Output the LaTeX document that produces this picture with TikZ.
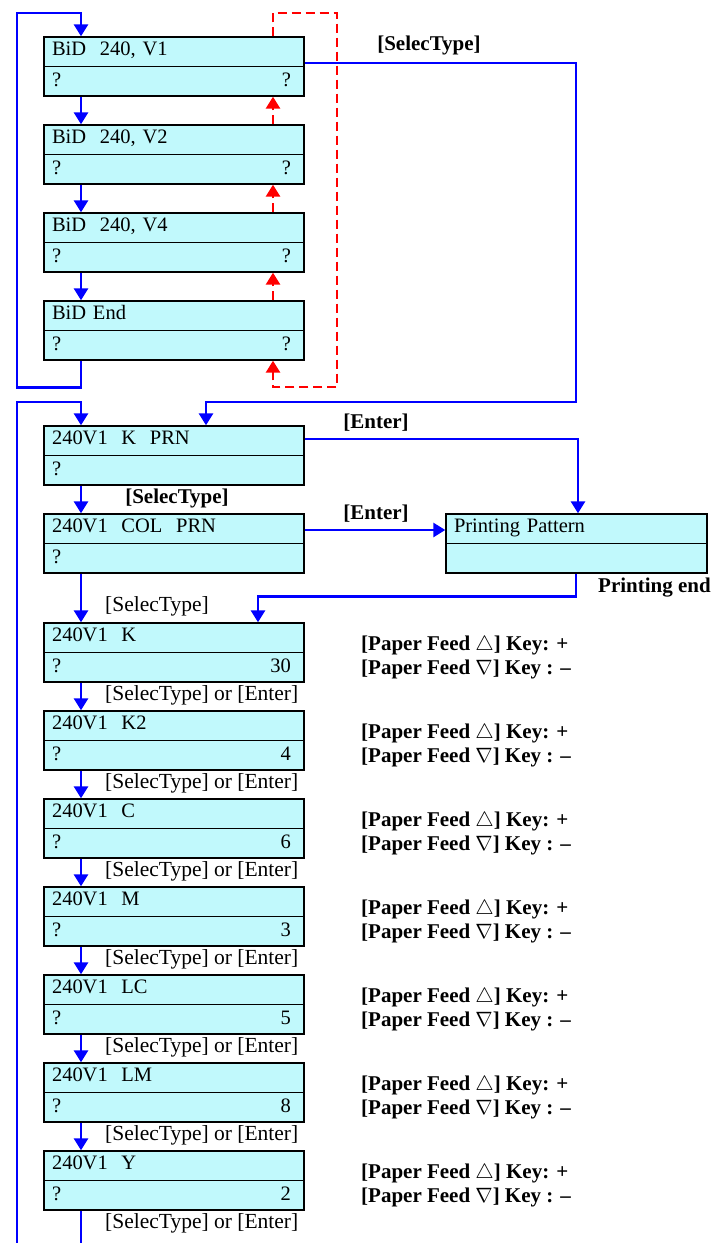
\documentclass[tikz,border=0pt]{standalone}
\usepackage{fontspec}
\setmainfont{Liberation Serif}
\usepackage{tikz}
\usetikzlibrary{arrows.meta, positioning}
\definecolor{lcdcyan}{RGB}{193,249,252}
\newcommand{\lcdrow}[2]{#1\hfill #2\hspace*{5pt}\rule[-5pt]{0pt}{5pt}}

\begin{document}
\begin{tikzpicture}[x=1pt, y=-1pt, >={Triangle[width=14pt,length=12pt]},
    lcd/.style={draw, line width=1.4pt, fill=lcdcyan, minimum width=260pt, minimum height=59pt,
      text width=244pt, inner xsep=8pt, align=left, font=\fontsize{20.5}{30.5}\selectfont},
    wire/.style={blue, line width=2.8pt},
    flow/.style={wire, ->},
    back/.style={red, line width=2.8pt, dash pattern=on 9pt off 5pt, ->},
    hint/.style={inner sep=0pt, font=\fontsize{21.5}{24}\selectfont},
    bhint/.style={inner sep=0pt, align=left, font=\bfseries\fontsize{21}{24}\selectfont}]
  \useasboundingbox (0,0) rectangle (712,1243);

  % BiD screens
  \node[lcd] (v1) at (174,66.5) {BiD\ \ 240, V1\\ \lcdrow{?}{?}};
  \node[lcd] (v2) [below=27.6pt of v1] {BiD\ \ 240, V2\\ \lcdrow{?}{?}};
  \node[lcd] (v4) [below=27.6pt of v2] {BiD\ \ 240, V4\\ \lcdrow{?}{?}};
  \node[lcd] (vend) [below=27.6pt of v4] {BiD End\\ \lcdrow{?}{?}};

  % print screens
  \node[lcd] (kprn) at (174,455.5) {240V1\ \ K\ \ PRN\\ \lcdrow{?}{}};
  \node[lcd] (colprn) [below=27.6pt of kprn] {240V1\ \ COL\ \ PRN\\ \lcdrow{?}{}};
  \node[lcd, minimum width=261pt, text width=245pt] (pp) at (576.5,543.5) {Printing Pattern\\ \lcdrow{}{}};

  % adjustment screens
  \foreach \nm/\val [count=\i] in {K/30, K2/4, C/6, M/3, LC/5, LM/8, Y/2} {
    \node[lcd] (c\i) at (174,564.5+88*\i) {240V1\ \ \nm\\ \lcdrow{?}{\val}};
    \node[bhint, anchor=west] (key\i) at (361,569+88*\i)
      {[Paper Feed $\triangle$] Key: +\\{}[Paper Feed $\nabla$] Key : --};
    \node[hint, anchor=west] (sel\i) at (105,607+88*\i) {[SelecType] or [Enter]};
  }

  \foreach \b in {v1,v2,v4,vend,kprn,colprn,pp,c1,c2,c3,c4,c5,c6,c7}
    \draw[line width=0.8pt] (\b.west) -- (\b.east);

  \coordinate (bottomL) at (17,1243);
  \coordinate (bottomR) at (81,1243);

  \node[bhint] (selA) at (429,45) {[SelecType]};
  \node[bhint] (selB) at (177,498) {[SelecType]};
  \node[hint, anchor=west] (selC) at (105,606) {[SelecType]};
  \node[bhint] (entA) at (376,423) {[Enter]};
  \node[bhint] (entB) at (376,514) {[Enter]};
  \node[bhint, anchor=west] (pend) at (598,588) {Printing end};

  % forward
  \draw[flow] ([xshift=-93pt]v1.south) -- ([xshift=-93pt]v2.north);
  \draw[flow] ([xshift=-93pt]v2.south) -- ([xshift=-93pt]v4.north);
  \draw[flow] ([xshift=-93pt]v4.south) -- ([xshift=-93pt]vend.north);
  \draw[flow] ([xshift=-93pt]vend.south) -- ++(0,27) -| (17,13) -| ([xshift=-93pt]v1.north);

  % backward
  \draw[back] ([xshift=99pt]v2.north) -- ([xshift=99pt]v1.south);
  \draw[back] ([xshift=99pt]v4.north) -- ([xshift=99pt]v2.south);
  \draw[back] ([xshift=99pt]vend.north) -- ([xshift=99pt]v4.south);
  \draw[back] ([xshift=99pt]v1.north) |- (337,13) -- (337,387) -| ([xshift=99pt]vend.south);

  \draw[flow] ([yshift=3.5pt]v1.east) -| (576,402) -| ([xshift=32pt]kprn.north);
  \draw[flow] (bottomL) -- (17,402) -| ([xshift=-93pt]kprn.north);
  \draw[flow] ([xshift=-93pt]kprn.south) -- ([xshift=-93pt]colprn.north);
  \draw[flow] ([yshift=16.5pt]kprn.east) -| ([xshift=1.5pt]pp.north);
  \draw[flow] ([yshift=13.5pt]colprn.east) -- ([yshift=13.5pt]colprn.east -| pp.west);
  \draw[flow] ([xshift=-93pt]colprn.south) -- ([xshift=-93pt]c1.north);
  \draw[flow] ([xshift=-0.5pt]pp.south) -- ++(0,23) -| ([xshift=84pt]c1.north);

  \foreach \i/\j in {1/2,2/3,3/4,4/5,5/6,6/7}
    \draw[flow] ([xshift=-93pt]c\i.south) -- ([xshift=-93pt]c\j.north);
  \draw[wire] ([xshift=-93pt]c7.south) -- (bottomR);
\end{tikzpicture}
\end{document}
